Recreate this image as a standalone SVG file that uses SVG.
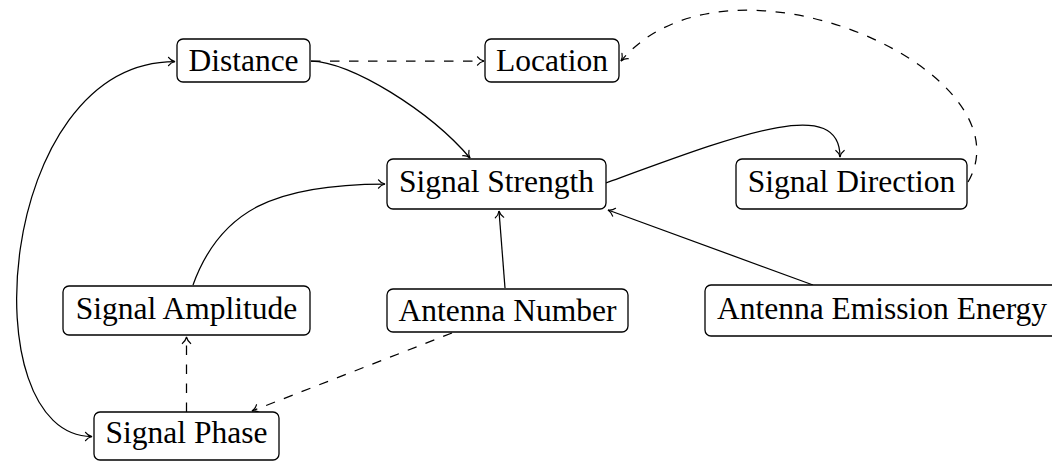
<svg xmlns="http://www.w3.org/2000/svg" width="1052" height="461" viewBox="0 0 1052 461">
<style>
.box{fill:#fff;stroke:#000;stroke-width:1.3}
.lbl{font-family:"Liberation Serif","Times New Roman",serif;font-size:31.5px;fill:#000;text-anchor:middle}
.edge{fill:none;stroke:#000;stroke-width:1.25;marker-end:url(#arr)}
.dash{stroke-dasharray:9.5 9.5}
</style>
<defs>
<marker id="arr" markerUnits="userSpaceOnUse" markerWidth="12" markerHeight="12" refX="0" refY="0" viewBox="-8 -6 10 12" orient="auto-start-reverse" overflow="visible">
<path d="M-6.5,-4.2 C-5,-2 -2,-0.5 0,0 C-2,0.5 -5,2 -6.5,4.2" fill="none" stroke="#000" stroke-width="1.2" stroke-linecap="round" stroke-dasharray="none"/>
</marker>
</defs>
<rect width="1052" height="461" fill="#fff"/>
<g id="connectors">
<path class="edge dash" d="M311,61 L484,61"/>
<path class="edge" d="M311,61 C350,61 430,111 470,158"/>
<path class="edge dash" d="M968,182 C1032,72 728,-66 621,61"/>
<path class="edge" d="M606,183 C740,134 840,95 840,157"/>
<path class="edge" d="M193,285 C220,210 275,184 385,184"/>
<path class="edge" d="M505,288 L499,211"/>
<path class="edge" d="M813,285 L608,210"/>
<path class="edge dash" d="M186.5,412 L186.5,337"/>
<path class="edge dash" d="M452,333 L252,411"/>
<path class="edge" style="marker-start:url(#arr)" d="M175,61.5 C-5,61.5 -30,436.5 92,436.5"/>
</g>
<g id="distance"><rect class="box" x="177" y="39" width="133" height="43" rx="6"/><text class="lbl" x="243.5" y="71">Distance</text></g>
<g id="location"><rect class="box" x="485" y="39" width="134" height="43" rx="6"/><text class="lbl" x="552" y="71">Location</text></g>
<g id="signal-strength"><rect class="box" x="387" y="159" width="219" height="50" rx="6"/><text class="lbl" x="496.5" y="192">Signal Strength</text></g>
<g id="signal-direction"><rect class="box" x="736" y="159" width="231" height="50" rx="6"/><text class="lbl" x="851.5" y="192">Signal Direction</text></g>
<g id="signal-amplitude"><rect class="box" x="63" y="286" width="247" height="49" rx="6"/><text class="lbl" x="186.5" y="318.5">Signal Amplitude</text></g>
<g id="antenna-number"><rect class="box" x="387" y="289" width="241" height="43" rx="6"/><text class="lbl" x="507.5" y="321">Antenna Number</text></g>
<g id="antenna-emission-energy"><rect class="box" x="705" y="285" width="353" height="51" rx="6"/><text class="lbl" x="882" y="318.5">Antenna Emission Energy</text></g>
<g id="signal-phase"><rect class="box" x="94" y="412" width="185" height="48" rx="6"/><text class="lbl" x="186.5" y="443">Signal Phase</text></g>
</svg>
